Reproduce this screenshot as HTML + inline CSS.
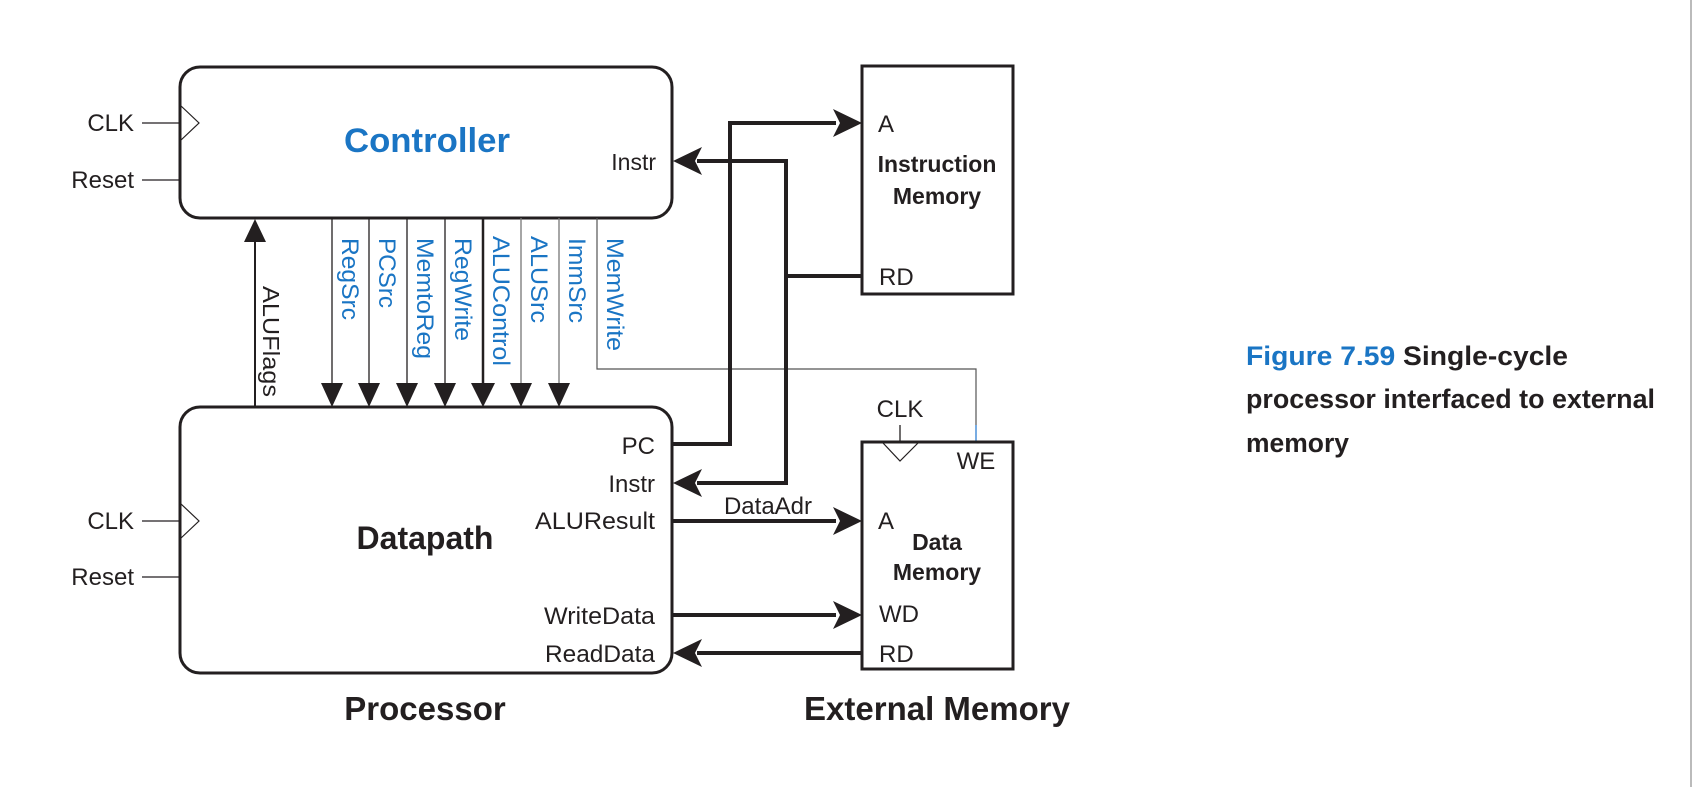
<!DOCTYPE html>
<html><head><meta charset="utf-8"><style>
html,body{margin:0;padding:0;background:#fff;}
svg{display:block;}
text{font-family:"Liberation Sans",Arial,sans-serif;}
</style></head><body>
<svg width="1694" height="787" viewBox="0 0 1694 787" xmlns="http://www.w3.org/2000/svg">
<rect width="1694" height="787" fill="#fff"/>
<line x1="1691" y1="0" x2="1691" y2="787" stroke="#bbb" stroke-width="2"/>

<!-- Controller -->
<rect x="180" y="67" width="492" height="151" rx="20" fill="none" stroke="#231f20" stroke-width="3"/>
<text x="427" y="152" font-size="34" font-weight="bold" fill="#1a75c4" text-anchor="middle" textLength="166" lengthAdjust="spacingAndGlyphs">Controller</text>
<text x="656" y="170" font-size="23" fill="#231f20" text-anchor="end">Instr</text>
<polyline points="180,105 199,123 180,141" fill="none" stroke="#231f20" stroke-width="1.2"/>
<line x1="142" y1="123" x2="180" y2="123" stroke="#231f20" stroke-width="1.3"/>
<line x1="142" y1="180" x2="180" y2="180" stroke="#231f20" stroke-width="1.3"/>
<text x="134" y="131" font-size="24" fill="#231f20" text-anchor="end">CLK</text>
<text x="134" y="188" font-size="24" fill="#231f20" text-anchor="end">Reset</text>

<!-- Datapath -->
<rect x="180" y="407" width="492" height="266" rx="20" fill="none" stroke="#231f20" stroke-width="3"/>
<text x="425" y="549" font-size="32" font-weight="bold" fill="#231f20" text-anchor="middle">Datapath</text>
<polyline points="180,503 199,521 180,539" fill="none" stroke="#231f20" stroke-width="1.2"/>
<line x1="142" y1="521" x2="180" y2="521" stroke="#231f20" stroke-width="1.3"/>
<line x1="142" y1="577" x2="180" y2="577" stroke="#231f20" stroke-width="1.3"/>
<text x="134" y="529" font-size="24" fill="#231f20" text-anchor="end">CLK</text>
<text x="134" y="585" font-size="24" fill="#231f20" text-anchor="end">Reset</text>
<g font-size="24" fill="#231f20" text-anchor="end">
<text x="655" y="454">PC</text>
<text x="655" y="492">Instr</text>
<text x="655" y="529" textLength="120" lengthAdjust="spacingAndGlyphs">ALUResult</text>
<text x="655" y="624" textLength="111" lengthAdjust="spacingAndGlyphs">WriteData</text>
<text x="655" y="662" textLength="110" lengthAdjust="spacingAndGlyphs">ReadData</text>
</g>
<text x="425" y="720" font-size="33" font-weight="bold" fill="#231f20" text-anchor="middle">Processor</text>

<!-- ALUFlags -->
<line x1="255" y1="407" x2="255" y2="240" stroke="#231f20" stroke-width="2"/>
<polygon points="255,219 244,242 266,242" fill="#231f20"/>
<text transform="translate(263,286) rotate(90)" font-size="23" fill="#231f20" textLength="111" lengthAdjust="spacingAndGlyphs">ALUFlags</text>

<!-- control signals -->
<g stroke="#231f20" stroke-width="1.3">
<line x1="332" y1="218" x2="332" y2="390"/>
<line x1="369" y1="218" x2="369" y2="390"/>
<line x1="407" y1="218" x2="407" y2="390"/>
<line x1="445" y1="218" x2="445" y2="390"/>
<line x1="483" y1="218" x2="483" y2="390" stroke-width="2.5"/>
<line x1="521" y1="218" x2="521" y2="390" stroke="#777"/>
<line x1="559" y1="218" x2="559" y2="390" stroke="#777"/>
</g>
<g fill="#231f20">
<polygon points="332,407 321,383 343,383"/>
<polygon points="369,407 358,383 380,383"/>
<polygon points="407,407 396,383 418,383"/>
<polygon points="445,407 434,383 456,383"/>
<polygon points="483,407 471,383 495,383"/>
<polygon points="521,407 510,383 532,383"/>
<polygon points="559,407 548,383 570,383"/>
</g>
<g font-size="24" fill="#1a75c4" lengthAdjust="spacingAndGlyphs">
<text transform="translate(342,238) rotate(90)" textLength="82" lengthAdjust="spacingAndGlyphs">RegSrc</text>
<text transform="translate(379,238) rotate(90)" textLength="70" lengthAdjust="spacingAndGlyphs">PCSrc</text>
<text transform="translate(417,238) rotate(90)" textLength="121" lengthAdjust="spacingAndGlyphs">MemtoReg</text>
<text transform="translate(455,238) rotate(90)" textLength="103" lengthAdjust="spacingAndGlyphs">RegWrite</text>
<text transform="translate(493,236) rotate(90)" textLength="130" lengthAdjust="spacingAndGlyphs">ALUControl</text>
<text transform="translate(531,236) rotate(90)" textLength="87" lengthAdjust="spacingAndGlyphs">ALUSrc</text>
<text transform="translate(569,238) rotate(90)" textLength="85" lengthAdjust="spacingAndGlyphs">ImmSrc</text>
<text transform="translate(607,238) rotate(90)" textLength="113" lengthAdjust="spacingAndGlyphs">MemWrite</text>
</g>
<polyline points="597,218 597,369 976,369 976,425" fill="none" stroke="#555" stroke-width="1.2"/>
<line x1="976" y1="425" x2="976" y2="442" stroke="#4a90d9" stroke-width="1.5"/>

<!-- Instruction memory -->
<rect x="862" y="66" width="151" height="228" fill="none" stroke="#231f20" stroke-width="3"/>
<text x="878" y="132" font-size="24" fill="#231f20">A</text>
<text x="937" y="172" font-size="23" font-weight="bold" fill="#231f20" text-anchor="middle">Instruction</text>
<text x="937" y="204" font-size="23" font-weight="bold" fill="#231f20" text-anchor="middle">Memory</text>
<text x="879" y="285" font-size="24" fill="#231f20">RD</text>

<!-- Data memory -->
<rect x="862" y="442" width="151" height="227" fill="none" stroke="#231f20" stroke-width="3"/>
<polyline points="883,443 900,461 918,443" fill="none" stroke="#231f20" stroke-width="1.2"/>
<line x1="900" y1="425" x2="900" y2="442" stroke="#231f20" stroke-width="1.3"/>
<text x="900" y="417" font-size="24" fill="#231f20" text-anchor="middle">CLK</text>
<text x="976" y="469" font-size="24" fill="#231f20" text-anchor="middle">WE</text>
<text x="878" y="529" font-size="24" fill="#231f20">A</text>
<text x="937" y="550" font-size="23" font-weight="bold" fill="#231f20" text-anchor="middle">Data</text>
<text x="937" y="580" font-size="23" font-weight="bold" fill="#231f20" text-anchor="middle">Memory</text>
<text x="879" y="622" font-size="24" fill="#231f20">WD</text>
<text x="879" y="662" font-size="24" fill="#231f20">RD</text>
<text x="937" y="720" font-size="33" font-weight="bold" fill="#231f20" text-anchor="middle">External Memory</text>
<text x="768" y="514" font-size="24" fill="#231f20" text-anchor="middle">DataAdr</text>

<!-- thick buses -->
<g fill="none" stroke="#231f20" stroke-width="4">
<polyline points="672,444 730,444 730,123 836,123"/>
<polyline points="862,276 786,276"/>
<polyline points="697,161 786,161 786,483 697,483"/>
<line x1="672" y1="521" x2="836" y2="521"/>
<line x1="672" y1="615" x2="836" y2="615"/>
<line x1="862" y1="653" x2="697" y2="653"/>
</g>
<g fill="#231f20">
<polygon points="862,123 833,109 840,123 833,137"/>
<polygon points="673,161 702,147 695,161 702,175"/>
<polygon points="673,483 702,469 695,483 702,497"/>
<polygon points="862,521 833,507 840,521 833,535"/>
<polygon points="862,615 833,601 840,615 833,629"/>
<polygon points="673,653 702,639 695,653 702,667"/>
</g>

<!-- caption -->
<text x="1246" y="365" font-size="27" font-weight="bold" textLength="322" lengthAdjust="spacingAndGlyphs" fill="#231f20"><tspan fill="#1a75c4">Figure 7.59</tspan>  Single-cycle</text>
<text x="1246" y="408" font-size="27" font-weight="bold" fill="#231f20" textLength="409" lengthAdjust="spacingAndGlyphs">processor interfaced to external</text>
<text x="1246" y="452" font-size="27" font-weight="bold" fill="#231f20" textLength="103" lengthAdjust="spacingAndGlyphs">memory</text>
</svg>
</body></html>
